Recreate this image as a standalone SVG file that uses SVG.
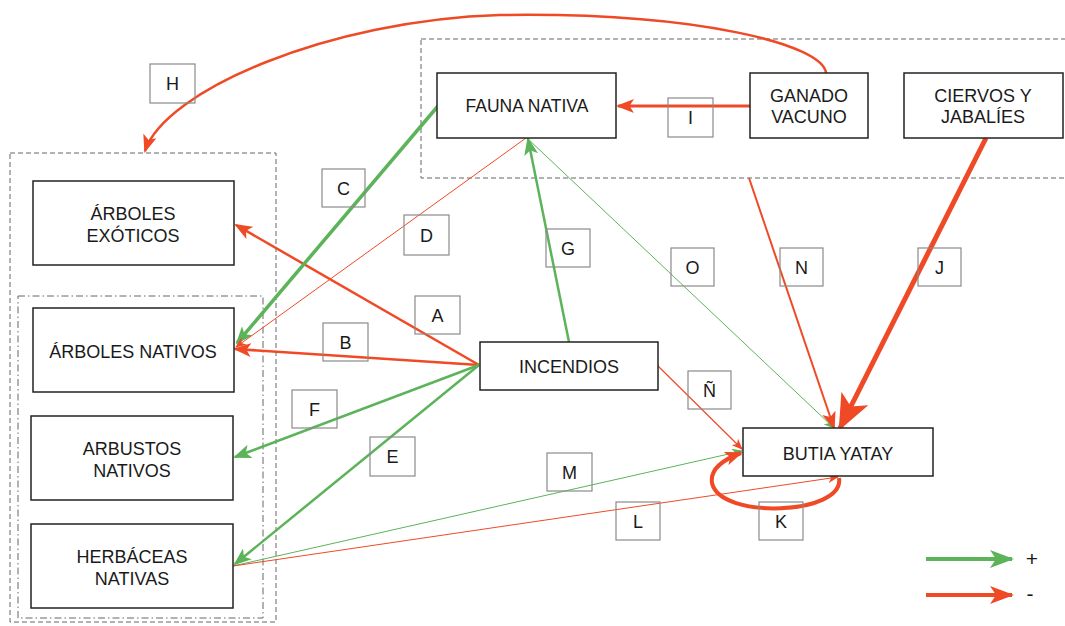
<svg xmlns="http://www.w3.org/2000/svg" width="1065" height="626" viewBox="0 0 1065 626">
<style>
.node{fill:#fff;stroke:#222;stroke-width:1.5}
.grp{fill:none;stroke:#666;stroke-width:1;stroke-dasharray:5,3}
.grp2{fill:none;stroke:#666;stroke-width:1;stroke-dasharray:7,3,1.5,3}
.t{font-family:"Liberation Sans",Arial,sans-serif;font-size:18px;fill:#1a1a1a;text-anchor:middle}
.lb{fill:none;stroke:#8a8a8a;stroke-width:1.2}
.r{fill:none;stroke:#ef4a25}
.g{fill:none;stroke:#5cb35a}
</style>
<defs>
<marker id="rs" markerUnits="userSpaceOnUse" markerWidth="11" markerHeight="9" viewBox="0 0 11 9" refX="10" refY="4.5" orient="auto"><path d="M0,0 L11,4.5 L0,9 L3,4.5 z" fill="#ef4a25"/></marker>
<marker id="gs" markerUnits="userSpaceOnUse" markerWidth="11" markerHeight="9" viewBox="0 0 11 9" refX="10" refY="4.5" orient="auto"><path d="M0,0 L11,4.5 L0,9 L3,4.5 z" fill="#5cb35a"/></marker>
<marker id="rm" markerUnits="userSpaceOnUse" markerWidth="18" markerHeight="14" viewBox="0 0 18 14" refX="16" refY="7" orient="auto"><path d="M0,0 L18,7 L0,14 L4.5,7 z" fill="#ef4a25"/></marker>
<marker id="gm" markerUnits="userSpaceOnUse" markerWidth="18" markerHeight="14" viewBox="0 0 18 14" refX="16" refY="7" orient="auto"><path d="M0,0 L18,7 L0,14 L4.5,7 z" fill="#5cb35a"/></marker>
<marker id="rl" markerUnits="userSpaceOnUse" markerWidth="36" markerHeight="30" viewBox="0 0 36 30" refX="33" refY="15" orient="auto"><path d="M0,0 L36,15 L0,30 L9,15 z" fill="#ef4a25"/></marker>
<marker id="rg" markerUnits="userSpaceOnUse" markerWidth="24" markerHeight="18" viewBox="0 0 24 18" refX="22" refY="9" orient="auto"><path d="M0,0 L24,9 L0,18 L6,9 z" fill="#ef4a25"/></marker>
<marker id="gg" markerUnits="userSpaceOnUse" markerWidth="24" markerHeight="18" viewBox="0 0 24 18" refX="22" refY="9" orient="auto"><path d="M0,0 L24,9 L0,18 L6,9 z" fill="#5cb35a"/></marker>
</defs>
<rect width="1065" height="626" fill="#fff"/>

<g id="groups">
<rect class="grp" x="10" y="153" width="266" height="469"/>
<rect class="grp2" x="18" y="296" width="245" height="322"/>
<rect class="grp" x="421" y="39" width="660" height="139"/>
</g>

<g id="connectors">
<path class="r" stroke-width="2.5" d="M826,73 C823,45 700,12 500,15 C330,20 165,90 145,151" marker-end="url(#rm)"/>
<line class="r" stroke-width="2.5" x1="479" y1="365" x2="236" y2="225" marker-end="url(#rm)"/>
<line class="r" stroke-width="2.5" x1="479" y1="365" x2="235" y2="349" marker-end="url(#rm)"/>
<line class="g" stroke-width="3.5" x1="438" y1="106" x2="237" y2="343" marker-end="url(#gm)"/>
<line class="r" stroke-width="1" x1="526" y1="138" x2="236" y2="347" marker-end="url(#rs)"/>
<line class="g" stroke-width="2.5" x1="479" y1="365" x2="235" y2="564" marker-end="url(#gm)"/>
<line class="g" stroke-width="2.5" x1="479" y1="365" x2="235" y2="457" marker-end="url(#gm)"/>
<line class="g" stroke-width="2.5" x1="569" y1="342" x2="528" y2="139" marker-end="url(#gm)"/>
<line class="r" stroke-width="3" x1="750" y1="106" x2="618" y2="106" marker-end="url(#rm)"/>
<line class="g" stroke-width="1" x1="527" y1="138" x2="834" y2="428" marker-end="url(#gs)"/>
<line class="r" stroke-width="2" x1="749" y1="178" x2="834" y2="428" marker-end="url(#rm)"/>
<line class="r" stroke-width="5" x1="986" y1="138" x2="840" y2="428" marker-end="url(#rl)"/>
<line class="r" stroke-width="1.2" x1="657" y1="365" x2="742" y2="449" marker-end="url(#rs)"/>
<line class="g" stroke-width="1" x1="233" y1="566" x2="742" y2="451" marker-end="url(#gs)"/>
<line class="r" stroke-width="1" x1="233" y1="566" x2="838" y2="477" marker-end="url(#rs)"/>
<path class="r" stroke-width="4" d="M839,478 C845,515 720,520 712,483 C710,470 722,460 741,453" marker-end="url(#rm)"/>
</g>

<g id="node-fauna"><rect class="node" x="437" y="73" width="179" height="65"/><text class="t" x="527" y="112" style="font-size:17.5px">FAUNA NATIVA</text></g>
<g id="node-ganado"><rect class="node" x="750" y="73" width="118" height="65"/><text class="t" x="809" y="102">GANADO</text><text class="t" x="809" y="123">VACUNO</text></g>
<g id="node-ciervos"><rect class="node" x="904" y="73" width="159" height="65"/><text class="t" x="983" y="102">CIERVOS Y</text><text class="t" x="983" y="123">JABALÍES</text></g>
<g id="node-exoticos"><rect class="node" x="33" y="181" width="201" height="84"/><text class="t" x="133" y="220">ÁRBOLES</text><text class="t" x="133" y="242">EXÓTICOS</text></g>
<g id="node-arboles"><rect class="node" x="33" y="308" width="201" height="84"/><text class="t" x="133" y="358">ÁRBOLES NATIVOS</text></g>
<g id="node-arbustos"><rect class="node" x="31" y="416" width="202" height="84"/><text class="t" x="132" y="455">ARBUSTOS</text><text class="t" x="132" y="477">NATIVOS</text></g>
<g id="node-herbaceas"><rect class="node" x="31" y="524" width="202" height="84"/><text class="t" x="132" y="563">HERBÁCEAS</text><text class="t" x="132" y="585">NATIVAS</text></g>
<g id="node-incendios"><rect class="node" x="480" y="342" width="178" height="48"/><text class="t" x="569" y="373">INCENDIOS</text></g>
<g id="node-butia"><rect class="node" x="743" y="428" width="190" height="48"/><text class="t" x="838" y="460">BUTIA YATAY</text></g>

<g id="labels">
<rect class="lb" x="150" y="64" width="45" height="39"/><text class="t" x="172.5" y="90">H</text>
<rect class="lb" x="322" y="169" width="43" height="38"/><text class="t" x="343.5" y="195">C</text>
<rect class="lb" x="404" y="215" width="45" height="40"/><text class="t" x="426.5" y="242">D</text>
<rect class="lb" x="415" y="296" width="45" height="38"/><text class="t" x="437.5" y="322">A</text>
<rect class="lb" x="323" y="323" width="45" height="38"/><text class="t" x="345.5" y="349">B</text>
<rect class="lb" x="292" y="390" width="45" height="38"/><text class="t" x="314.5" y="416">F</text>
<rect class="lb" x="370" y="437" width="45" height="39"/><text class="t" x="392.5" y="463">E</text>
<rect class="lb" x="546" y="229" width="44" height="38"/><text class="t" x="568" y="255">G</text>
<rect class="lb" x="668" y="98" width="45" height="39"/><text class="t" x="690.5" y="124">I</text>
<rect class="lb" x="671" y="248" width="43" height="38"/><text class="t" x="692.5" y="274">O</text>
<rect class="lb" x="780" y="248" width="43" height="38"/><text class="t" x="801.5" y="274">N</text>
<rect class="lb" x="918" y="248" width="43" height="38"/><text class="t" x="939.5" y="274">J</text>
<rect class="lb" x="688" y="371" width="43" height="38"/><text class="t" x="709.5" y="397">Ñ</text>
<rect class="lb" x="547" y="453" width="45" height="38"/><text class="t" x="569.5" y="479">M</text>
<rect class="lb" x="616" y="502" width="44" height="38"/><text class="t" x="638" y="528">L</text>
<rect class="lb" x="759" y="502" width="44" height="38"/><text class="t" x="781" y="528">K</text>
</g>

<g id="legend">
<line class="g" stroke-width="4" x1="926" y1="559" x2="1012" y2="559" marker-end="url(#gg)"/>
<text class="t" x="1032" y="566" style="font-size:21px">+</text>
<line class="r" stroke-width="4" x1="926" y1="595" x2="1012" y2="595" marker-end="url(#rg)"/>
<text class="t" x="1030" y="601" style="font-size:21px">-</text>
</g>
</svg>
